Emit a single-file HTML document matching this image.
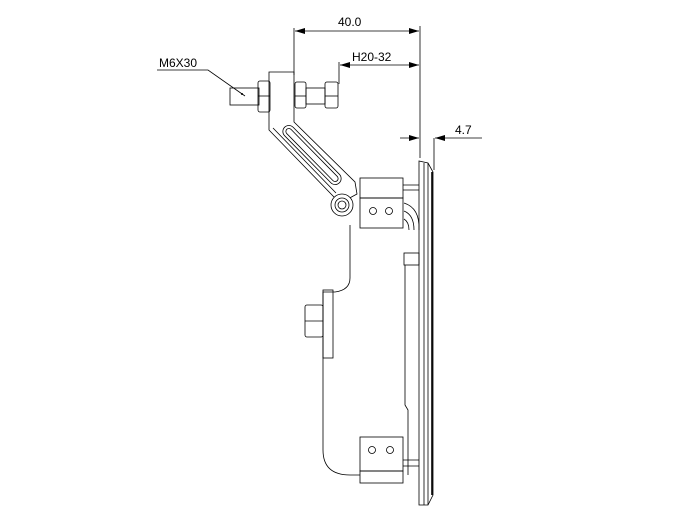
<!DOCTYPE html>
<html><head><style>html,body{margin:0;padding:0;background:#fff}</style></head><body>
<svg width="691" height="518" viewBox="0 0 691 518" xmlns="http://www.w3.org/2000/svg" font-family="Liberation Sans, sans-serif">
<defs><marker id="a" markerWidth="10" markerHeight="6" refX="10" refY="3" orient="auto-start-reverse" markerUnits="userSpaceOnUse"><path d="M0,0 L10,3 L0,6z" fill="#000"/></marker></defs>
<g stroke="#000" stroke-width="0.8" fill="none">
<!-- dimensions -->
<line x1="294" y1="28" x2="294" y2="75"/>
<line x1="420" y1="26" x2="420" y2="158"/>
<line x1="295" y1="31" x2="419" y2="31" marker-start="url(#a)" marker-end="url(#a)"/>
<line x1="339" y1="62" x2="339" y2="84"/>
<line x1="340" y1="65" x2="419" y2="65" marker-start="url(#a)" marker-end="url(#a)"/>
<line x1="434" y1="138" x2="434" y2="170"/>
<line x1="400" y1="138" x2="419" y2="138" marker-end="url(#a)"/>
<line x1="482" y1="138" x2="435" y2="138" marker-end="url(#a)"/>
<polyline points="157,70 208,70 245,96"/>
<!-- bolt -->
<rect x="230" y="88" width="29" height="17"/>
<rect x="258" y="81" width="12" height="31" rx="2"/>
<line x1="258" y1="96" x2="270" y2="96"/>
<path d="M269,130 L269,72 L294,72 L294,122 L355,182 L357,194 L346,200 L334,197 Z"/>
<path d="M273,128 L336,193"/>
<rect x="295" y="82" width="11" height="26" rx="2"/>
<line x1="295" y1="96" x2="306" y2="96"/>
<rect x="306" y="88" width="19" height="16"/>
<rect x="325" y="82" width="13" height="26" rx="2"/>
<line x1="325" y1="96" x2="338" y2="96"/>
<rect x="306" y="116" width="12" height="78" rx="6" transform="rotate(-44.5 312 155)"/>
<rect x="309" y="119" width="6" height="72" rx="3" transform="rotate(-44.5 312 155)"/>
<!-- pivot -->
<circle cx="342" cy="205" r="11" fill="#fff"/>
<circle cx="342" cy="205" r="7"/>
<circle cx="342" cy="205" r="4"/>
<!-- body -->
<path d="M350,225 L350,278 Q350,290 335,292 L323,292 L323,450 Q323,475 350,475 L360,475"/>
<rect x="323" y="290" width="10" height="68"/>
<rect x="305" y="305" width="18" height="32" rx="2"/>
<line x1="305" y1="321" x2="323" y2="321"/>
<!-- blocks -->
<rect x="360" y="178" width="43" height="20"/>
<rect x="360" y="198" width="43" height="30"/>
<circle cx="373" cy="211" r="3.5"/><circle cx="389" cy="211" r="3.5"/>
<rect x="360" y="437" width="43" height="34"/>
<rect x="360" y="471" width="43" height="12"/>
<circle cx="372" cy="450" r="3.5"/><circle cx="390" cy="450" r="3.5"/>
<path d="M403,185 L419,185 M403,190 L419,190 M403,460 L419,460 M403,466 L419,466"/>
<path d="M404,203 Q420,208 419,230 M404,211 Q414,215 414,230 M404,219 Q409,222 409,230" />
<rect x="404" y="253" width="15" height="12"/>
<path d="M405,265 L405,405 L408,410 L408,475"/>
<!-- panel -->
<path d="M419,505 L419,161 L428,163 L433,172 L433,495 L428,505 Z"/>
<line x1="424" y1="163" x2="424" y2="505"/>
<line x1="428" y1="163" x2="428" y2="505"/>
<line x1="432" y1="172" x2="432" y2="495" stroke-width="1.6"/>
</g>
<g font-size="12" fill="#000">
<text x="338" y="26">40.0</text>
<text x="352" y="61">H20-32</text>
<text x="455" y="134">4.7</text>
<text x="159" y="67">M6X30</text>
</g>
<circle cx="242" cy="94" r="1" fill="#000"/>
</svg>
</body></html>
